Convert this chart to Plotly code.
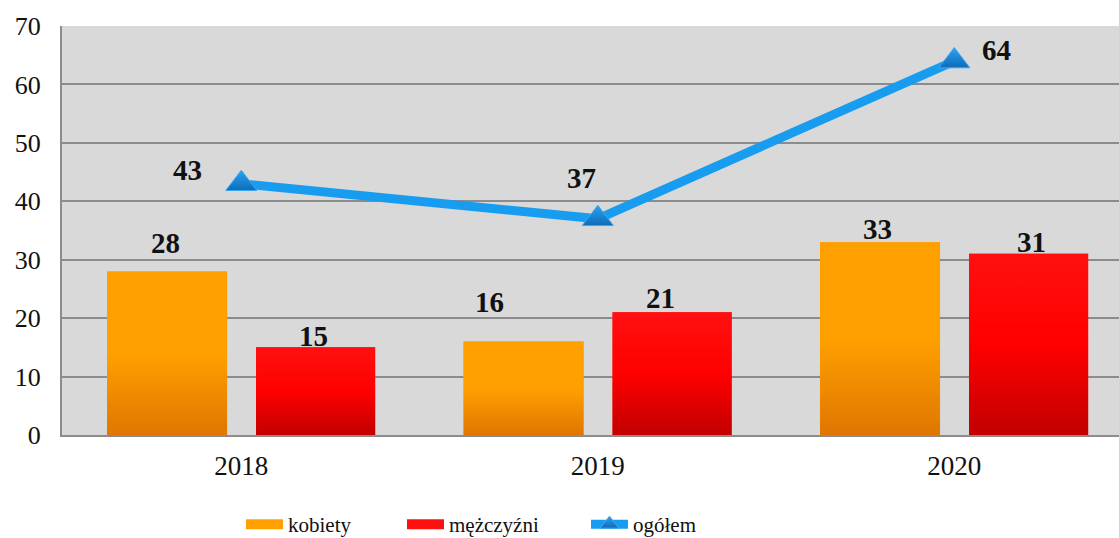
import plotly.graph_objects as go

# Data
years = ["2018", "2019", "2020"]
kobiety = [28, 16, 33]
mezczyzni = [15, 21, 31]
ogolem = [43, 37, 64]

# Label offsets in pixels (xshift, yshift)
kob_label_shift = [(-2, 28), (-34, 40), (-3, 13)]
mez_label_shift = [(-2, 11), (-12, 14), (3, 12)]
og_label_shift = [(-54, 14), (-16, 41), (42, 11)]

xpos = list(range(len(years)))

ORANGE_OFF, ORANGE_W = -0.3766, 0.3366
RED_OFF, RED_W = 0.0414, 0.334

SERIF = "'Liberation Serif', 'Times New Roman', 'DejaVu Serif', serif"
GRID = "#8c8c8c"
ORANGE = "#ffa000"
RED = "#ff1010"
BLUE = "#189cf0"

fig = go.Figure()

fig.add_trace(go.Bar(
    x=xpos, y=kobiety, name="kobiety", offset=ORANGE_OFF, width=ORANGE_W,
    marker=dict(color=ORANGE, line=dict(width=0)), showlegend=False,
))
fig.add_trace(go.Bar(
    x=xpos, y=mezczyzni, name="mężczyźni", offset=RED_OFF, width=RED_W,
    marker=dict(color=RED, line=dict(width=0)), showlegend=False,
))


def gradient_overlay(values, off, w, scale):
    # vertical shading over each bar, built from the same values
    for xi, v in zip(xpos, values):
        x0, x1 = xi + off, xi + off + w
        fig.add_trace(go.Scatter(
            x=[x0, x1, x1, x0, x0], y=[0, 0, v, v, 0],
            mode="none", fill="toself",
            fillgradient=dict(type="vertical", colorscale=scale),
            showlegend=False, hoverinfo="skip",
        ))


gradient_overlay(kobiety, ORANGE_OFF, ORANGE_W,
                 [[0, "#e07600"], [0.5, "#ffa000"], [1, "#ffa000"]])
gradient_overlay(mezczyzni, RED_OFF, RED_W,
                 [[0, "#c20000"], [0.5, "#ff0000"], [1, "#ff1010"]])

fig.add_trace(go.Scatter(
    x=xpos, y=ogolem, name="ogółem", mode="lines+markers",
    line=dict(color=BLUE, width=9),
    marker=dict(symbol="triangle-up", size=27, color="#2aa2f2",
                gradient=dict(type="vertical", color="#0e6cb8"),
                line=dict(color="#3aa8f4", width=1)),
    legend="legend3",
))

# legend swatches for the bar series (wide rectangles)
fig.add_trace(go.Scatter(x=[None], y=[None], mode="lines", name="kobiety",
                         line=dict(color=ORANGE, width=15), legend="legend"))
fig.add_trace(go.Scatter(x=[None], y=[None], mode="lines", name="mężczyźni",
                         line=dict(color=RED, width=15), legend="legend2"))

annotations = []
for vals, off, w, shifts in [(kobiety, ORANGE_OFF, ORANGE_W, kob_label_shift),
                             (mezczyzni, RED_OFF, RED_W, mez_label_shift)]:
    for xi, v, (dx, dy) in zip(xpos, vals, shifts):
        annotations.append(dict(
            x=xi + off + w / 2, y=v, text=f"<b>{v}</b>", showarrow=False,
            xanchor="center", yanchor="middle", xshift=dx, yshift=dy,
            font=dict(family=SERIF, size=29, color="#111111"),
        ))
for xi, v, (dx, dy) in zip(xpos, ogolem, og_label_shift):
    annotations.append(dict(
        x=xi, y=v, text=f"<b>{v}</b>", showarrow=False,
        xanchor="center", yanchor="middle", xshift=dx, yshift=dy,
        font=dict(family=SERIF, size=29, color="#111111"),
    ))

W, H = 1119, 538


def legend_at(px_left):
    return dict(orientation="h", xref="container", yref="container",
                x=px_left / W, xanchor="left", y=1 - 524.5 / H, yanchor="middle",
                font=dict(family=SERIF, size=21, color="#111111"),
                itemwidth=37, bgcolor="rgba(0,0,0,0)", borderwidth=0)


fig.update_layout(
    width=W, height=H,
    margin=dict(l=62, r=0, t=26, b=103, autoexpand=False),
    paper_bgcolor="white", plot_bgcolor="#d9d9d9",
    barmode="overlay",
    font=dict(family=SERIF, size=26, color="#111111"),
    annotations=annotations,
    legend=legend_at(241),
    legend2=legend_at(402),
    legend3=legend_at(586),
    xaxis=dict(range=[-0.503, 2.462], tickvals=xpos, ticktext=years,
               showgrid=False, zeroline=False, showline=True, linecolor=GRID,
               linewidth=2, ticks="", ticklabelstandoff=6,
               tickfont=dict(family=SERIF, size=27, color="#111111")),
    yaxis=dict(range=[0, 70], dtick=10, showgrid=True, gridcolor=GRID, gridwidth=2,
               zeroline=False, showline=True, linecolor=GRID, linewidth=2,
               ticks="", ticklabelstandoff=14,
               tickfont=dict(family=SERIF, size=26, color="#111111")),
)

fig.write_html("out.html")
